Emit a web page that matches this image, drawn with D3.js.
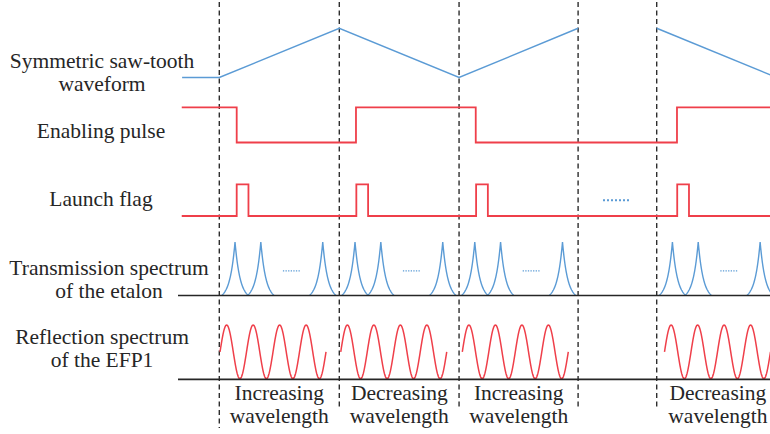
<!DOCTYPE html>
<html>
<head>
<meta charset="utf-8">
<script src="https://cdn.jsdelivr.net/npm/d3@7"></script>
<style>
  body { margin: 0; background: #fff; }
</style>
</head>
<body>
<div id="chart"></div>
<script>
/* CONSTANTS AND GLOBALS */
const width = 770,
  height = 434;

const blue = "#5b9bd5",
  red = "#ef3f4a",
  ink = "#262626",
  serif = '"Liberation Serif"';

/* DATA (time in sweep periods, 0 = first dashed marker) */
const markerTimes = [0, 1, 1.998, 2.99, 3.645];
const markerEnds = [428, 408, 410, 410, 410];

// saw-tooth vertices: time and level (0 = low, 1 = high)
const sawTimes = [-0.31, 0, 1, 1.998, 2.99];
const sawLevels = [0, 0, 1, 0, 1];
const sawTimes2 = [3.645, 4.645];
const sawLevels2 = [1, 0];

// enabling pulse transitions (step after)
const enableTimes = [-0.313, 0.145, 1.139, 2.137, 3.814, 4.7];
const enableLevels = [1, 0, 1, 0, 1, 1];

// launch flag pulses
const flagStarts = [0.145, 1.142, 2.14, 3.816];
const flagWidth = 0.098;

// etalon transmission peaks, offset from each sweep start
const sweepStarts = [0, 1, 1.998, 3.645];
const peakOffsets = [0.131, 0.346, 0.862];
const peakHalfWidth = 0.112;
const dotsFrom = 0.53, dotsTo = 0.68;

// EFP1 reflection: start time of each sweep's sine, 4 fringes each
const fringeStarts = [0.006, 1.012, 2.025, 3.71];
const fringeCount = 4;
const fringePeriod = 0.2208;

const trackLabels = [
  ["Symmetric saw-tooth", "waveform"],
  ["Enabling pulse"],
  ["Launch flag"],
  ["Transmission spectrum", "of the etalon"],
  ["Reflection spectrum", "of the EFP1"]
];
const sweepLabels = ["Increasing", "Decreasing", "Increasing", "Decreasing"];

/* SCALES */
const xScale = d3.scaleLinear().domain([0, 1]).range([219.3, 339.3]);
const sawY = d3.scaleLinear().domain([0, 1]).range([77.5, 28.3]);
const enableY = d3.scaleLinear().domain([0, 1]).range([142.5, 107.3]);
const flagY = d3.scaleLinear().domain([0, 1]).range([216, 184.3]);
const transY = d3.scaleLinear().domain([0, 1]).range([295.5, 242]);
const reflY = d3.scaleLinear().domain([-1, 1]).range([378.8, 325]);

const svg = d3.select("#chart")
  .append("svg")
  .attr("width", width)
  .attr("height", height);

// dashed markers
svg.selectAll("line.marker")
  .data(markerTimes)
  .join("line")
  .attr("class", "marker")
  .attr("x1", d => xScale(d))
  .attr("x2", d => xScale(d))
  .attr("y1", 2)
  .attr("y2", (d, i) => markerEnds[i])
  .attr("stroke", "#2e2e2e")
  .attr("stroke-width", 1.4)
  .attr("stroke-dasharray", "5,3.5");

const line = d3.line().x(d => xScale(d[0]));

// saw-tooth
[[sawTimes, sawLevels], [sawTimes2, sawLevels2]].forEach(([ts, vs]) => {
  svg.append("path")
    .attr("d", line.y(d => sawY(d[1]))(d3.zip(ts, vs)))
    .attr("fill", "none")
    .attr("stroke", blue)
    .attr("stroke-width", 1.5);
});

// enabling pulse
svg.append("path")
  .attr("d", d3.line()
    .x(d => xScale(d[0]))
    .y(d => enableY(d[1]))
    .curve(d3.curveStepAfter)(d3.zip(enableTimes, enableLevels)))
  .attr("fill", "none")
  .attr("stroke", red)
  .attr("stroke-width", 1.8);

// launch flag
const flagPts = [[-0.313, 0]];
flagStarts.forEach(s => {
  flagPts.push([s, 0], [s, 1], [s + flagWidth, 1], [s + flagWidth, 0]);
});
flagPts.push([4.7, 0]);
svg.append("path")
  .attr("d", line.y(d => flagY(d[1]))(flagPts))
  .attr("fill", "none")
  .attr("stroke", red)
  .attr("stroke-width", 1.8);

svg.append("line")
  .attr("x1", 603).attr("x2", 631)
  .attr("y1", flagY(0.5)).attr("y2", flagY(0.5))
  .attr("stroke", blue)
  .attr("stroke-width", 2)
  .attr("stroke-dasharray", "2,2");

// transmission spectrum (cusp-shaped peaks, flanks reach baseline)
const w = 0.38;
function cusp(k) {
  const e = Math.exp(-Math.abs(k) / w), e0 = Math.exp(-1 / w);
  return (e - e0) / (1 - e0);
}
sweepStarts.forEach(s => {
  peakOffsets.forEach(p => {
    const c = s + p;
    const pts = d3.range(-1, 1.0001, 0.02).map(k => [c + k * peakHalfWidth, cusp(k)]);
    svg.append("path")
      .attr("d", line.y(d => transY(d[1]))(pts))
      .attr("fill", "none")
      .attr("stroke", blue)
      .attr("stroke-width", 1.4);
  });
  svg.append("line")
    .attr("x1", xScale(s + dotsFrom)).attr("x2", xScale(s + dotsTo))
    .attr("y1", transY(0.46)).attr("y2", transY(0.46))
    .attr("stroke", blue)
    .attr("stroke-width", 1.2)
    .attr("stroke-dasharray", "1.3,1.3");
});

// reflection spectrum
fringeStarts.forEach(s => {
  const pts = d3.range(0, fringeCount * 80 + 1).map(i => {
    const t = s + (i / 80) * fringePeriod;
    return [t, Math.sin(2 * Math.PI * i / 80)];
  });
  svg.append("path")
    .attr("d", line.y(d => reflY(d[1]))(pts))
    .attr("fill", "none")
    .attr("stroke", red)
    .attr("stroke-width", 1.5);
});

// baselines
[transY(0), reflY(-1) + 0.6].forEach(y => {
  svg.append("line")
    .attr("x1", 178).attr("x2", width)
    .attr("y1", y).attr("y2", y)
    .attr("stroke", ink)
    .attr("stroke-width", 1.6);
});

// track labels
const labelPos = [[102, 68], [101, 137.5], [101, 206], [109, 275], [102, 343.5]];
trackLabels.forEach((lines, i) => {
  const txt = svg.append("text")
    .attr("x", labelPos[i][0])
    .attr("y", labelPos[i][1])
    .attr("text-anchor", "middle")
    .style("font-family", serif)
    .style("font-size", "21.5px")
    .attr("fill", ink);
  lines.forEach((l, j) => {
    txt.append("tspan")
      .attr("x", labelPos[i][0])
      .attr("dy", j === 0 ? 0 : 23.3)
      .text(l);
  });
});

// sweep labels
const labelCentres = [0.5, 1.5, 2.495, 4.155];
sweepLabels.forEach((l, i) => {
  const txt = svg.append("text")
    .attr("x", xScale(labelCentres[i]))
    .attr("y", 400)
    .attr("text-anchor", "middle")
    .style("font-family", serif)
    .style("font-size", "21.5px")
    .attr("fill", ink);
  txt.append("tspan").attr("x", xScale(labelCentres[i])).attr("dy", 0).text(l);
  txt.append("tspan").attr("x", xScale(labelCentres[i])).attr("dy", 23).text("wavelength");
});
</script>
</body>
</html>
